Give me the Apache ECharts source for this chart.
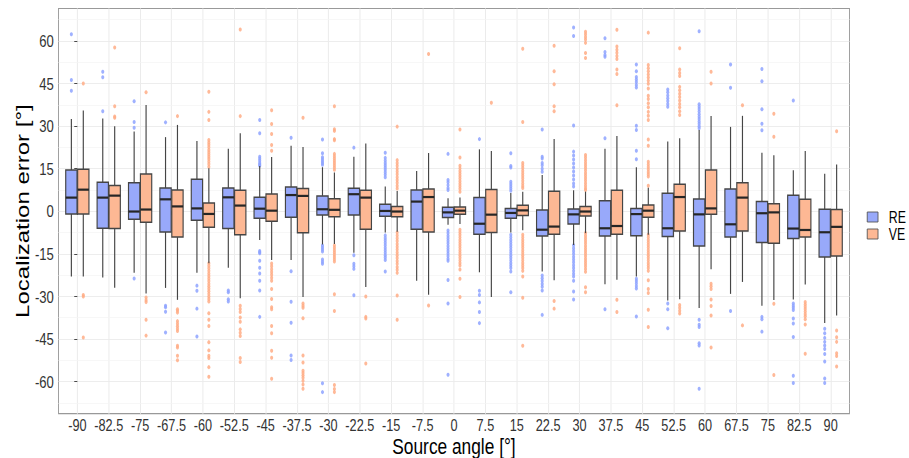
<!DOCTYPE html>
<html><head><meta charset="utf-8">
<script src="https://cdn.jsdelivr.net/npm/echarts@6/dist/echarts.min.js"></script>
<style>
html,body{margin:0;padding:0;background:#fff;width:909px;height:458px;overflow:hidden}
#c{height:458px;transform-origin:0 0}
</style>
</head><body><div id="c"></div>
<script>
const categories = ['-90','-82.5','-75','-67.5','-60','-52.5','-45','-37.5','-30','-22.5','-15','-7.5','0','7.5','15','22.5','30','37.5','45','52.5','60','67.5','75','82.5','90'];
const yTicks = [-60,-45,-30,-15,0,15,30,45,60];
const yMinorTicks = [-67.5,-52.5,-37.5,-22.5,-7.5,7.5,22.5,37.5,52.5,67.5];

// [lower whisker, Q1, median, Q3, upper whisker]
const reStats = [
  [-23.0,-0.95,4.8,14.5,32.5],[-23.3,-6.0,4.8,10.2,32.7],[-21.7,-2.8,-0.1,10.0,28.1],[-27.0,-7.3,4.2,8.2,26.1],
  [-21.7,-3.2,1.0,11.3,24.7],[-19.9,-6.1,4.9,8.2,22.0],[-10.1,-2.5,0.9,4.9,15.9],[-17.2,-2.1,5.7,8.5,23.1],
  [-11.7,-1.3,0.7,5.4,15.5],[-14.6,-1.3,6.0,8.1,19.2],[-7.5,-1.8,0.1,2.5,8.7],[-24.5,-6.3,3.4,7.5,14.2],
  [-4.8,-2.2,-0.4,1.4,4.6],[-21.5,-8.1,-4.4,4.8,21.8],[-7.5,-2.5,-0.6,1.0,6.4],[-21.2,-8.7,-6.5,0.4,12.8],
  [-11.9,-4.5,-1.1,0.8,7.4],[-25.7,-8.7,-6.0,3.7,22.0],[-23.0,-8.6,-1.0,1.0,15.5],[-31.4,-8.9,-6.0,6.3,24.6],
  [-34.1,-12.2,-1.1,4.3,28.6],[-29.1,-9.1,-4.6,7.8,29.7],[-33.3,-11.0,-0.7,3.4,20.6],[-31.1,-9.6,-6.1,5.6,14.4],
  [-39.4,-16.1,-7.4,0.7,13.2]
];
const veStats = [
  [-23.0,-0.95,7.6,14.8,35.5],[-26.9,-6.1,5.5,9.1,29.9],[-29.0,-3.9,0.6,13.1,37.4],[-31.2,-9.1,1.7,7.5,30.4],
  [-18.3,-5.6,-0.95,2.9,15.1],[-30.6,-8.3,2.0,7.4,27.5],[-17.2,-3.5,0.2,6.1,19.1],[-30.2,-7.6,5.4,8.0,22.6],
  [-11.5,-1.9,0.5,4.4,13.6],[-26.7,-6.3,4.8,7.4,23.9],[-7.2,-1.9,-0.1,1.7,7.1],[-29.4,-7.3,5.0,7.8,20.5],
  [-4.5,-1.1,0.2,1.5,4.8],[-30.2,-7.5,-1.2,7.7,21.2],[-6.7,-1.5,0.3,2.1,6.9],[-24.3,-8.1,-5.4,7.0,25.4],
  [-7.7,-1.7,-0.1,1.7,6.9],[-24.1,-8.1,-5.2,7.4,26.5],[-8.3,-2.1,0.2,2.2,8.3],[-31.0,-7.0,5.0,9.5,25.7],
  [-20.4,-1.1,1.0,14.5,33.5],[-24.9,-7.0,4.8,10.0,33.6],[-31.3,-11.3,-0.4,2.6,19.7],[-25.8,-9.1,-6.6,4.2,21.2],
  [-36.7,-15.8,-5.5,0.6,16.5]
];

const reOutliers = [
  [62.3,46.2,42.4],
  [49.1,47.2,35.2],
  [38.7,31.4,29.4,-23.7],
  [31.3,-33.3,-33.8,-35.4,-42.7],
  [-26.2,-28.0,-34.3,-44.1],
  [-27.9,-28.5,-31.0,-31.8],
  [32.1,27.5,19.2,18.5,17.8,17.0,16.5,16.0,-14.0,-14.4,-14.8,-17.4,-19.9,-21.9,-24.5,-27.9,-37.2],
  [25.9,-21.1,-31.9,-39.3,-50.8,-52.4],
  [25.3,20.4,19.0,18.3,17.6,17.0,16.4,-12.1,-12.8,-13.5,-14.2,-17.0,-17.8,-18.5,-60.6,-63.7],
  [22.4,-15.5,-18.5,-19.4,-20.3,-29.6],
  [20.6,18.8,17.9,17.0,16.2,15.4,14.6,13.7,12.9,12.0,-8.5,-9.4,-10.2,-11.1,-12.0,-12.9,-13.7,-14.6,-15.5,-16.3,-17.2,-21.2],
  [],
  [20.2,11.0,10.2,9.2,8.2,7.5,-6.8,-7.7,-8.6,-9.5,-10.4,-11.3,-12.2,-13.1,-14.0,-14.9,-15.8,-16.7,-17.4,-24.2,-32.5,-57.6],
  [25.4,-28.0,-29.5,-32.1,-35.5,-39.4],
  [20.4,15.9,15.4,10.4,9.6,8.8,8.0,7.2,-8.3,-9.2,-10.1,-11.0,-11.9,-12.8,-13.7,-14.6,-15.5,-16.4,-17.3,-18.2,-19.1,-20.0,-21.2,-28.5],
  [28.8,19.2,18.6,17.0,16.2,15.0,13.9,-22.6,-23.6,-24.6,-25.6,-26.6,-27.9,-36.5],
  [64.7,61.7,30.2,21.0,19.6,18.2,16.8,15.4,14.0,12.6,11.2,9.8,8.7,-12.0,-13.0,-14.0,-15.0,-16.0,-17.0,-18.0,-19.0,-20.0,-21.0,-22.0,-23.0,-24.5,-28.3,-31.1],
  [60.9,56.1,55.0,54.4,25.7,-34.5],
  [51.7,49.3,47.3,46.4,45.5,44.5,43.6,30.1,28.6,21.3,18.3,-23.8,-24.6,-25.4,-26.3,-27.2,-37.1],
  [42.9,41.9,40.8,39.8,38.8,37.8,36.8,-32.5,-34.5,-41.2],
  [63.4,37.7,36.8,36.0,35.1,34.2,33.3,32.5,31.6,30.8,29.9,29.2,-38.2,-40.0,-40.8,-46.5,-47.3,-62.5],
  [51.7,43.5,-35.1],
  [50.1,45.8,35.9,30.8,28.5,-37.2,-38.0,-42.4],
  [39.0,-32.5,-33.3,-34.0,-34.8,-37.8,-39.5,-44.3,-57.9,-60.5],
  [-41.4,-43.0,-44.6,-46.0,-47.3,-48.5,-50.3,-52.9,-58.9,-60.5]
];
const veOutliers = [
  [45.0,-29.5,-30.0,-44.5],
  [57.7,37.0,33.4,32.9],
  [41.9,-30.4,-31.3,-32.0,-38.2,-43.8],
  [33.5,-34.5,-35.0,-35.7,-38.7,-39.6,-40.5,-41.4,-42.2,-47.4,-48.0,-50.9,-52.5],
  [42.1,35.0,32.1,25.1,24.2,23.4,22.5,21.6,20.8,20.0,19.2,18.4,17.5,16.6,15.7,-18.3,-19.2,-20.1,-21.0,-21.9,-22.8,-23.7,-24.6,-25.5,-26.4,-27.3,-28.2,-29.1,-30.0,-30.9,-31.8,-35.9,-38.2,-40.4,-46.1,-49.0,-50.9,-51.7,-54.9,-58.3],
  [64.0,33.5,-33.3,-34.4,-35.5,-37.4,-38.9,-41.6,-42.8,-43.9,-51.7,-53.1],
  [35.6,30.7,27.2,23.3,21.3,-18.4,-19.4,-20.4,-21.4,-22.4,-23.4,-24.5,-27.4,-30.9,-33.8,-34.5,-40.4,-43.0,-49.1,-51.6,-59.0],
  [32.9,-32.5,-33.3,-34.0,-37.7,-50.8,-53.3,-56.2,-57.0,-57.8,-58.6,-59.7,-61.0,-62.5],
  [37.0,28.9,28.3,25.4,25.0,20.2,19.4,18.6,17.8,17.0,16.2,15.4,14.6,-12.1,-12.9,-13.7,-14.5,-15.3,-16.1,-16.9,-17.7,-29.2,-35.1,-61.2,-62.6,-63.7],
  [-30.0,-37.2,-37.8,-53.6],
  [29.8,18.0,17.0,16.0,15.0,14.0,13.0,12.0,11.0,10.0,9.0,8.0,-7.5,-8.5,-9.5,-10.5,-11.5,-12.5,-13.5,-14.5,-15.5,-16.5,-17.5,-18.5,-19.6,-20.6,-21.7,-29.7,-38.2],
  [55.4,-33.2],
  [28.8,18.9,16.0,15.1,14.2,13.3,12.4,11.5,10.6,9.7,8.8,7.9,6.9,-6.5,-7.4,-8.3,-9.2,-10.1,-11.0,-11.9,-12.8,-13.7,-14.6,-15.5,-16.4,-17.3,-18.2,-19.1,-20.5,-23.8,-30.2],
  [38.2],
  [57.2,31.4,17.0,16.1,15.2,14.3,13.4,12.5,11.6,10.7,9.8,8.9,8.2,-8.3,-9.2,-10.1,-11.0,-11.9,-12.8,-13.7,-14.6,-15.5,-16.4,-17.3,-18.2,-19.1,-20.0,-21.0,-23.0,-30.5,-47.4],
  [58.3,49.3,44.7,37.0,35.2,-31.6,-34.3],
  [63.2,62.3,61.4,60.5,59.3,55.7,54.0,19.8,18.9,18.0,17.1,16.2,15.3,14.4,13.5,12.6,11.7,10.8,9.9,9.0,8.1,7.5,-7.7,-8.6,-9.5,-10.4,-11.3,-12.2,-13.1,-14.0,-14.9,-15.8,-16.7,-17.6,-18.5,-19.4,-20.3,-21.3,-26.8,-28.5],
  [63.9,58.0,56.9,55.8,54.7,53.6,49.9,48.3,37.3,-31.2,-35.5],
  [62.9,51.5,50.4,49.3,48.2,47.1,46.0,44.9,43.2,40.7,39.5,38.0,36.6,35.0,33.6,32.1,25.3,23.1,17.4,16.5,15.6,14.7,13.8,13.0,12.2,9.0,-8.3,-9.2,-10.1,-11.0,-11.9,-12.8,-13.7,-14.6,-15.5,-16.4,-17.3,-18.2,-19.1,-20.0,-21.0,-24.3,-27.4,-28.8,-34.7,-40.8],
  [57.4,49.9,48.7,47.6,43.8,42.6,41.4,40.2,39.0,37.8,36.6,35.2,33.9,-33.0,-34.0,-35.0,-36.0],
  [49.1,45.0,-25.5,-26.4,-27.4,-31.1,-33.4,-36.7,-48.0],
  [37.3,-40.2],
  [34.3,26.2,-32.6,-57.7],
  [-32.0,-32.8,-33.6,-34.4,-35.3,-36.2,-37.0,-38.0,-39.9,-50.2],
  [28.2,-42.0,-44.4,-46.0,-50.0,-51.0,-54.7]
];

const groups = ['RE','VE'];
const fills = {RE:'#98A9FA', VE:'#FDB894'};
const pointColors = {RE:'#8EA3FF', VE:'#FFAD86'};
const DODGE = 0.19, BOX_W = 0.36;
const FONT = "'Liberation Sans', Arial, Helvetica, sans-serif";
// The reference image is a horizontally compressed ggplot render: draw wider, then compress.
const SQUEEZE = 0.77;
const PAGE_W = 909;
const W = PAGE_W / SQUEEZE;
const el = document.getElementById('c');
el.style.width = W + 'px';
el.style.transform = 'scaleX(' + SQUEEZE + ')';

function renderBox(params, api) {
  const x = api.value(0);
  const lo = api.coord([x, api.value(1)]);
  const q1 = api.coord([x, api.value(2)]);
  const med = api.coord([x, api.value(3)]);
  const q3 = api.coord([x, api.value(4)]);
  const hi = api.coord([x, api.value(5)]);
  const w = api.size([BOX_W, 0])[0];
  const fill = api.visual('color');
  const cx = med[0];
  return {type:'group', children:[
    {type:'line', shape:{x1:cx,y1:lo[1],x2:cx,y2:q1[1]}, style:{stroke:'#454545',lineWidth:1.5}},
    {type:'line', shape:{x1:cx,y1:q3[1],x2:cx,y2:hi[1]}, style:{stroke:'#454545',lineWidth:1.5}},
    {type:'rect', shape:{x:cx-w/2,y:q3[1],width:w,height:q1[1]-q3[1]}, style:{fill:fill,stroke:'#454545',lineWidth:1.5}},
    {type:'line', shape:{x1:cx-w/2,y1:med[1],x2:cx+w/2,y2:med[1]}, style:{stroke:'#262626',lineWidth:2.2}}
  ]};
}

const series = [];
groups.forEach((g, gi) => {
  const outs = g === 'RE' ? reOutliers : veOutliers;
  const off = gi === 0 ? -DODGE : DODGE;
  series.push({
    name: g + ' outliers', type:'scatter',
    data: outs.flatMap((arr, i) => arr.map(v => [i + off, v])),
    symbol:'circle', symbolSize:4,
    itemStyle:{color:pointColors[g], opacity:0.85},
    z: 3, silent:true
  });
});
groups.forEach((g, gi) => {
  const stats = g === 'RE' ? reStats : veStats;
  const off = gi === 0 ? -DODGE : DODGE;
  series.push({
    name: g, type:'custom',
    renderItem: renderBox,
    data: stats.map((s, i) => [i + off].concat(s)),
    encode:{x:0, y:[1,2,3,4,5]},
    itemStyle:{color:fills[g], borderColor:'#4a4a4a', borderWidth:1},
    z: 4, silent:true
  });
});
// minor horizontal grid lines
series.push({
  type:'line', data:[], silent:true,
  markLine:{silent:true, symbol:'none', z:1, label:{show:false},
    lineStyle:{color:'#F3F3F3', width:0.8, type:'solid'},
    data: yMinorTicks.map(v => ({yAxis:v}))}
});

const chart = echarts.init(el, null, {renderer:'svg', width:W, height:458});
chart.setOption({
  animation:false,
  backgroundColor:'#ffffff',
  grid:{left:58.5/SQUEEZE, right:59.5/SQUEEZE, top:8.5, bottom:44.3, containLabel:false, outerBoundsMode:'none',
        show:true, borderColor:'#999999', borderWidth:1.2, backgroundColor:'transparent'},
  legend:{
    data: groups.map(g => ({name:g, itemStyle:{color:fills[g], borderColor:'#555', borderWidth:1}})),
    orient:'vertical', left:863/SQUEEZE, top:204, itemWidth:14, itemHeight:10, itemGap:1, icon:'rect',
    textStyle:{fontSize:16, color:'#000', fontFamily:FONT, padding:[0,0,0,9]}
  },
  xAxis:{
    type:'value', min:-0.6, max:24.6,
    name:'Source angle [°]', nameLocation:'middle', nameGap:21, nameMoveOverlap:false,
    nameTextStyle:{fontSize:22.5, color:'#000', fontFamily:FONT},
    axisLine:{show:false},
    axisTick:{show:true, length:3.5, lineStyle:{color:'#333', width:1.3}, customValues: categories.map((c,i)=>i)},
    axisLabel:{show:true, customValues: categories.map((c,i)=>i), formatter: v => categories[Math.round(v)],
      fontSize:16.5, color:'#333', margin:3.5, fontFamily:FONT},
    splitLine:{show:true, lineStyle:{color:'#EBEBEB', width:1.3}}
  },
  yAxis:{
    type:'value', min:-71.3, max:71.4,
    name:'Localization error [°]', nameLocation:'middle', nameGap:34, nameMoveOverlap:false,
    nameTextStyle:{fontSize:24, color:'#000', fontFamily:FONT},
    axisLine:{show:false},
    axisTick:{show:true, length:4, lineStyle:{color:'#333'}, customValues: yTicks},
    axisLabel:{show:true, customValues: yTicks, fontSize:17, color:'#333', margin:6, fontFamily:FONT},
    splitLine:{show:true, lineStyle:{color:'#EBEBEB', width:1}}
  },
  series: series
});
</script></body></html>
